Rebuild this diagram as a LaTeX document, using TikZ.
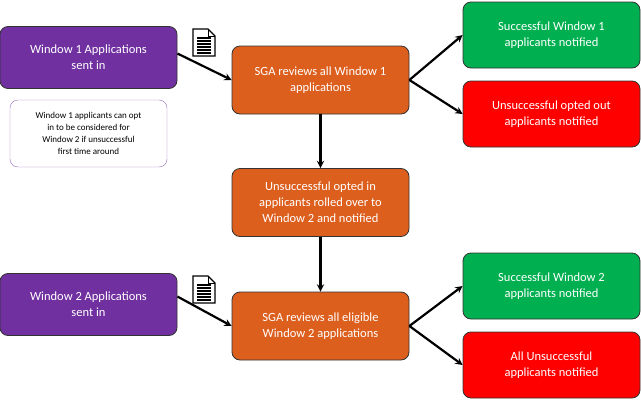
\documentclass[tikz,border=0pt]{standalone}
\usepackage{fontspec}
\setmainfont{Carlito}
\usetikzlibrary{positioning}
\definecolor{sgapurple}{HTML}{7030A0}
\definecolor{sgaorange}{HTML}{DD5F1E}
\definecolor{sgagreen}{HTML}{00B050}
\definecolor{sgared}{HTML}{FF0000}
\tikzset{
  stage/.style={draw=black!80, rounded corners=8pt, minimum width=177pt, minimum height=68pt,
    text=white, align=center, font=\fontsize{12.5}{16}\selectfont, line width=0.8pt},
  apply/.style={stage, fill=sgapurple, minimum height=62pt},
  review/.style={stage, fill=sgaorange},
  pass/.style={stage, fill=sgagreen, minimum height=66pt},
  fail/.style={stage, fill=sgared, minimum height=66pt},
  note/.style={draw=sgapurple!70, rounded corners=8pt, minimum width=157pt, minimum height=67pt,
    align=center, font=\fontsize{9}{12}\selectfont, fill=white},
  flow/.style={-stealth, line width=2.2pt},
}
\newcommand{\docicon}[1]{%
  \begin{scope}[shift={#1}]
    \draw[line width=1.2pt, fill=white] (0,0) -- (15,0) -- (22,7) -- (22,27) -- (0,27) -- cycle;
    \draw[line width=1pt] (15,0) -- (15,7) -- (22,7);
    \foreach \y in {9,12,15,18,21,24}
      \draw[line width=1.3pt] (4,\y) -- (18,\y);
  \end{scope}}
\begin{document}
\begin{tikzpicture}[x=1pt, y=-1pt]
  \useasboundingbox (0,0) rectangle (641,402);

  % window 1
  \node[apply] (app1) at (88.5,57.5) {Window 1 Applications\\sent in};
  \node[note] (opt) at (88.5,133.5) {Window 1 applicants can opt\\in to be considered for\\Window 2 if unsuccessful\\first time around};
  \node[review] (rev1) at (320.5,80) {SGA reviews all Window 1\\applications};
  \node[pass] (ok1) at (551.5,35) {Successful Window 1\\applicants notified};
  \node[fail] (no1) at (551.5,114) {Unsuccessful opted out\\applicants notified};
  \docicon{(193,29)}

  % roll over
  \node[review] (roll) at (320.5,202.5) {Unsuccessful opted in\\applicants rolled over to\\Window 2 and notified};

  % window 2
  \node[apply] (app2) at (88.5,304.5) {Window 2 Applications\\sent in};
  \node[review] (rev2) at (320.5,326) {SGA reviews all eligible\\Window 2 applications};
  \node[pass] (ok2) at (551.5,286) {Successful Window 2\\applicants notified};
  \node[fail] (no2) at (551.5,365) {All Unsuccessful\\applicants notified};
  \docicon{(193,276)}

  \draw[flow] ([yshift=4pt]app1.east) -- (rev1.west);
  \draw[flow] (rev1.east) -- (ok1.west);
  \draw[flow] (rev1.east) -- (no1.west);
  \draw[flow] (rev1.south) -- (roll.north);
  \draw[flow] (roll.south) -- (rev2.north);
  \draw[flow] ([yshift=8pt]app2.east) -- (rev2.west);
  \draw[flow] (rev2.east) -- (ok2.west);
  \draw[flow] (rev2.east) -- (no2.west);
\end{tikzpicture}
\end{document}
